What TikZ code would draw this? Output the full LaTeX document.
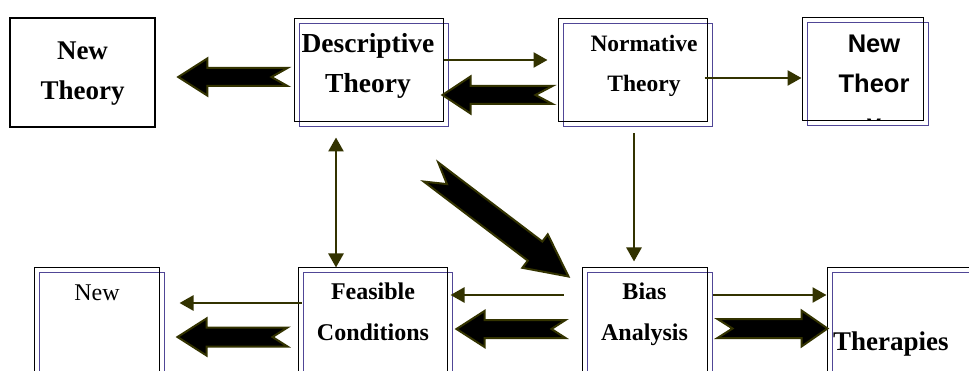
\documentclass[tikz,border=0pt]{standalone}
\usepackage{fontspec}
\setmainfont{Liberation Serif}
\newfontfamily\arialfont{Liberation Sans}
\usetikzlibrary{arrows.meta,calc,shadows}
\definecolor{arrowolive}{RGB}{51,51,0}
\definecolor{boxblue}{RGB}{80,70,150}
\tikzset{
  box/.style={draw, line width=1pt, minimum width=149pt, minimum height=103pt, inner sep=0pt},
  dbox/.style={box, copy shadow={shadow xshift=5pt, shadow yshift=-5pt, draw=boxblue, fill=none}},
  lbl/.style={anchor=base, align=center, inner sep=0pt, font=\bfseries\fontsize{#1}{40}\selectfont},
  link/.style={-{Triangle[length=14pt,width=15pt]}, line width=2.6pt, arrowolive},
  fat/.style={fill=black, draw=arrowolive, line width=2pt, line join=miter},
}
% notched block arrow: tail, tip, half shaft, half head, head length, notch
\newcommand{\fatarrow}[6]{%
  \coordinate (ft) at (#1);
  \coordinate (fh) at (#2);
  \coordinate (fb) at ($(fh)!#5!(ft)$);
  \draw[fat] ($(ft)!#3!90:(fh)$) -- ($(fb)!#3!90:(fh)$) -- ($(fb)!#4!90:(fh)$) -- (fh)
    -- ($(fb)!#4!-90:(fh)$) -- ($(fb)!#3!-90:(fh)$) -- ($(ft)!#3!-90:(fh)$)
    -- ($(ft)!#6!(fh)$) -- cycle;
}

\begin{document}
\begin{tikzpicture}[x=1pt, y=-1pt]
\useasboundingbox (0,0) rectangle (969,371);
\clip (0,0) rectangle (969,371);

% top row
\node[box, line width=2.5pt, minimum width=145pt, minimum height=109pt] (newt) at (82.5,72.5) {};
\node[dbox] (desc) at (368.5,70.5) {};
\node[dbox] (norm) at (632.5,70.5) {};
\node[dbox, minimum width=121pt] (newr) at (862.5,69.5) {};

% bottom row
\node[dbox, minimum width=125pt] (newb) at (96.5,319.5) {};
\node[dbox] (feas) at (372.5,319.5) {};
\node[dbox, minimum width=125pt] (bias) at (644.5,319.5) {};
\node[dbox] (ther) at (901.5,319.5) {};

% labels (base = last line)
\node[lbl=27] (newtT) at (82.5,100) {New\\Theory};
\node[lbl=27.5] (descT) at (368,93) {Descriptive\\Theory};
\node[lbl=23.5] (normT) at (644,92) {Normative\\Theory};
\begin{scope}
  \clip (802,18) rectangle (923,119.5);
  \node[lbl=25.5, font=\arialfont\bfseries\fontsize{25.5}{40}\selectfont] (newrT) at (874,133) {New\\Theor\\y};
\end{scope}
\node[lbl=24, font=\fontsize{24}{40}\selectfont] (newbT) at (97,301) {New};
\node[lbl=24, font=\bfseries\fontsize{24}{41}\selectfont] (feasT) at (373,341) {Feasible\\Conditions};
\node[lbl=24, font=\bfseries\fontsize{24}{41}\selectfont] (biasT) at (644.5,341) {Bias\\Analysis};
\node[lbl=27, anchor=base west] (therT) at (833,350) {Therapies};

% thin arrows
\draw[link, shorten >=10pt] ([yshift=10.5pt]desc.east) -- ([yshift=10.5pt]norm.west);
\draw[link] ([xshift=-3pt,yshift=-7.5pt]norm.east) -- ([yshift=-8.5pt]newr.west);
\draw[link, shorten >=6pt] ([xshift=1.5pt,yshift=-11pt]norm.south) -- ([xshift=1.5pt]norm.south |- bias.north);
\draw[link, {Triangle[length=14pt,width=15pt]}-{Triangle[length=14pt,width=15pt]}] ([xshift=-32.5pt,yshift=-15pt]desc.south) -- ([xshift=-32.5pt]desc.south |- feas.north);
\draw[link, shorten >=3pt] ([xshift=-18pt,yshift=24.5pt]bias.west) -- ([yshift=24.5pt]feas.east);
\draw[link, shorten >=20pt] ([xshift=4pt,yshift=16.5pt]feas.west) -- ([yshift=16.5pt]newb.east);
\draw[link] ([xshift=5pt,yshift=24.5pt]bias.east) -- ([yshift=24.5pt]ther.west);

% block arrows
\fatarrow{[xshift=-6pt,yshift=-6.5pt]desc.west}{[xshift=22pt,yshift=-4.5pt]newt.east}{9pt}{18.5pt}{29pt}{16pt}
\fatarrow{[xshift=-5pt,yshift=-24.5pt]norm.west}{[xshift=-1pt,yshift=-24.5pt]desc.east}{9pt}{18.5pt}{28pt}{17pt}
\fatarrow{[xshift=-10pt,yshift=-17.5pt]feas.west}{[xshift=18pt,yshift=-17.5pt]newb.east}{9.5pt}{18.5pt}{29pt}{15pt}
\fatarrow{[xshift=-16pt,yshift=-9.5pt]bias.west}{[xshift=9pt,yshift=-9.5pt]feas.east}{9pt}{18pt}{28pt}{14pt}
\fatarrow{[xshift=10pt,yshift=-9pt]bias.east}{[xshift=1pt,yshift=-9pt]ther.west}{9.5pt}{18pt}{26pt}{15pt}
\fatarrow{[xshift=-12.5pt,yshift=-49.5pt]desc.south east}{[xshift=-13pt,yshift=-9pt]bias.north west}{12pt}{21pt}{42pt}{20pt}
\end{tikzpicture}
\end{document}
